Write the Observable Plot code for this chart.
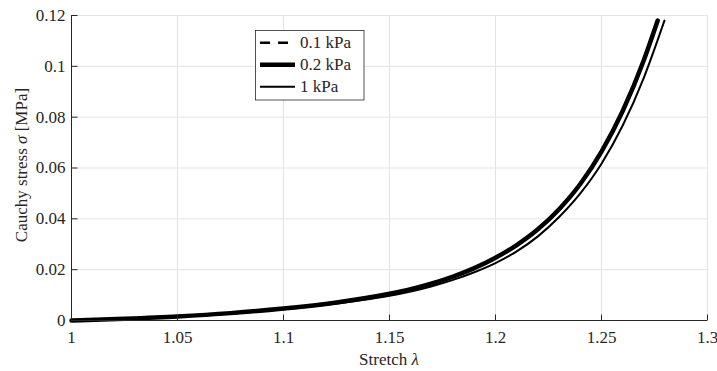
<!DOCTYPE html>
<html>
<head>
<meta charset="utf-8">
<script src="https://cdn.jsdelivr.net/npm/d3@7"></script>
<script src="https://cdn.jsdelivr.net/npm/@observablehq/plot@0.6"></script>
<style>
  body { margin: 0; background: #fff; }
  #chart { width: 717px; height: 371px; }
  #chart svg text, #chart svg g[aria-label$="axis tick label"] { font-family: 'Liberation Serif', 'DejaVu Serif', serif !important; }
</style>
</head>
<body>
<div id="chart"></div>
<script>
// ---- data ----
const seriesNames = ["0.1 kPa", "0.2 kPa", "1 kPa"];

const stretch01 = [1, 1.025, 1.05, 1.075, 1.1, 1.125, 1.15, 1.16, 1.17, 1.18, 1.19, 1.2, 1.21, 1.22, 1.23, 1.24, 1.25, 1.26, 1.27, 1.2764];
const stress01  = [0, 0.0007, 0.0016, 0.0029, 0.0047, 0.0071, 0.0105, 0.0123, 0.0146, 0.0173, 0.0207, 0.0248, 0.0298, 0.0360, 0.0439, 0.0538, 0.0665, 0.0825, 0.1027, 0.1180];

const stretch02 = [1, 1.025, 1.05, 1.075, 1.1, 1.125, 1.15, 1.16, 1.17, 1.18, 1.19, 1.2, 1.21, 1.22, 1.23, 1.24, 1.25, 1.26, 1.27, 1.2765];
const stress02  = [0, 0.0007, 0.0016, 0.0029, 0.0047, 0.0071, 0.0105, 0.0123, 0.0146, 0.0173, 0.0206, 0.0247, 0.0297, 0.0359, 0.0438, 0.0537, 0.0664, 0.0824, 0.1025, 0.1180];

const stretch1  = [1, 1.025, 1.05, 1.075, 1.1, 1.125, 1.15, 1.16, 1.17, 1.18, 1.19, 1.2, 1.21, 1.22, 1.23, 1.24, 1.25, 1.26, 1.27, 1.2797];
const stress1   = [0, 0.0006, 0.0015, 0.0027, 0.0044, 0.0067, 0.0097, 0.0114, 0.0135, 0.0160, 0.0190, 0.0226, 0.0272, 0.0331, 0.0407, 0.0500, 0.0617, 0.0767, 0.0956, 0.1180];

const xTicks = [1, 1.05, 1.1, 1.15, 1.2, 1.25, 1.3];
const xTickLabels = ["1", "1.05", "1.1", "1.15", "1.2", "1.25", "1.3"];
const yTicks = [0, 0.02, 0.04, 0.06, 0.08, 0.1, 0.12];
const yTickLabels = ["0", "0.02", "0.04", "0.06", "0.08", "0.1", "0.12"];

const xLabel = ["Stretch ", "λ"];
const yLabel = ["Cauchy stress ", "σ", " [MPa]"];

// ---- build tables ----
const toRows = (xs, ys) => xs.map((x, i) => ({x, y: ys[i]}));
const d01 = toRows(stretch01, stress01);
const d02 = toRows(stretch02, stress02);
const d1 = toRows(stretch1, stress1);

const ink = "#262626";
const font = "'Liberation Serif', 'DejaVu Serif', serif";

const tickUp = {draw(ctx) { ctx.moveTo(0, 0); ctx.lineTo(0, -6); }};
const tickRight = {draw(ctx) { ctx.moveTo(0, 0); ctx.lineTo(6, 0); }};

const plot = Plot.plot({
  width: 717,
  height: 371,
  marginLeft: 71,
  marginRight: 10,
  marginTop: 15,
  marginBottom: 51,
  style: {fontFamily: font, fontSize: "17px", background: "#fff", color: ink},
  x: {domain: [1, 1.3]},
  y: {domain: [0, 0.12]},
  marks: [
    Plot.gridX(xTicks, {stroke: "#e3e3e3", strokeOpacity: 1, strokeWidth: 1}),
    Plot.gridY(yTicks, {stroke: "#e3e3e3", strokeOpacity: 1, strokeWidth: 1}),
    Plot.axisX(xTicks, {tickSize: 0, tickPadding: 10, fontSize: 17, fontFamily: font, fill: ink, label: null,
      tickFormat: d => xTickLabels[xTicks.indexOf(d)]}),
    Plot.axisY(yTicks, {tickSize: 0, tickPadding: 6, fontSize: 17, fontFamily: font, fill: ink, label: null,
      tickFormat: d => yTickLabels[yTicks.indexOf(d)]}),
    Plot.line(d01, {x: "x", y: "y", stroke: "black", strokeWidth: 2.5, strokeDasharray: "9,7", curve: "monotone-x"}),
    Plot.line(d02, {x: "x", y: "y", stroke: "black", strokeWidth: 4.5, curve: "monotone-x"}),
    Plot.line(d1, {x: "x", y: "y", stroke: "black", strokeWidth: 2, curve: "monotone-x"}),
    Plot.ruleX([1], {stroke: ink, strokeWidth: 1}),
    Plot.ruleY([0], {stroke: ink, strokeWidth: 1}),
    Plot.dot(xTicks, {x: d => d, frameAnchor: "bottom", symbol: tickUp, fill: "none", stroke: ink, strokeWidth: 1}),
    Plot.dot(yTicks, {y: d => d, frameAnchor: "left", symbol: tickRight, fill: "none", stroke: ink, strokeWidth: 1})
  ]
});

document.getElementById("chart").appendChild(plot);

// ---- labels and legend ----
const svg = d3.select(plot);

const xl = svg.append("text")
  .attr("x", 389).attr("y", 365)
  .attr("text-anchor", "middle")
  .attr("fill", ink).attr("font-family", font).attr("font-size", 17);
xl.append("tspan").text(xLabel[0]);
xl.append("tspan").attr("font-style", "italic").text(xLabel[1]);

const yl = svg.append("text")
  .attr("transform", "translate(27,165) rotate(-90)")
  .attr("text-anchor", "middle")
  .attr("fill", ink).attr("font-family", font).attr("font-size", 17);
yl.append("tspan").text(yLabel[0]);
yl.append("tspan").attr("font-style", "italic").text(yLabel[1]);
yl.append("tspan").text(yLabel[2]);

const lg = svg.append("g");
lg.append("rect")
  .attr("x", 255.5).attr("y", 30.5).attr("width", 108.5).attr("height", 69.5)
  .attr("fill", "#fff").attr("stroke", ink).attr("stroke-width", 0.8);
const rows = [
  {name: seriesNames[0], w: 2.5, dash: "10,8"},
  {name: seriesNames[1], w: 4.5, dash: null},
  {name: seriesNames[2], w: 2, dash: null}
];
rows.forEach((r, i) => {
  const cy = 42.7 + i * 22;
  lg.append("line")
    .attr("x1", 260).attr("x2", 295).attr("y1", cy).attr("y2", cy)
    .attr("stroke", "black").attr("stroke-width", r.w)
    .attr("stroke-dasharray", r.dash);
  lg.append("text")
    .attr("x", 300).attr("y", cy + 5.5)
    .attr("text-anchor", "start")
    .attr("fill", ink).attr("font-family", font).attr("font-size", 17)
    .text(r.name);
});
</script>
</body>
</html>
